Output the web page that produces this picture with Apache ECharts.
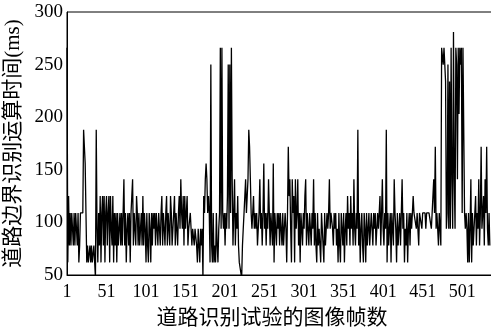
<!DOCTYPE html>
<html>
<head>
<meta charset="utf-8">
<script src="https://cdn.jsdelivr.net/npm/echarts@6/dist/echarts.min.js"></script>
<style>
  html, body { margin: 0; padding: 0; background: #fff; }
  #chart { width: 491px; height: 334px; }
</style>
</head>
<body>
<div id="chart"></div>
<script>
// processing time per frame (ms); timer steps of ~15.6 ms
const times = [
  266, 62, 125, 78, 109, 78, 109, 94, 78, 109,
  78, 109, 94, 78, 109, 62, 78, 109, 109, 109,
  109, 188, 172, 156, 109, 62, 78, 62, 62, 78,
  62, 78, 62, 62, 78, 62, 47, 188, 94, 62,
  109, 78, 125, 62, 109, 125, 78, 125, 62, 109,
  125, 78, 109, 125, 62, 125, 94, 78, 125, 62,
  109, 78, 109, 62, 109, 78, 94, 109, 78, 109,
  78, 109, 141, 78, 109, 62, 94, 109, 78, 109,
  62, 109, 125, 141, 78, 109, 94, 78, 125, 109,
  78, 109, 78, 94, 109, 78, 125, 78, 109, 94,
  62, 109, 78, 62, 109, 94, 62, 109, 78, 109,
  94, 109, 78, 109, 94, 78, 109, 94, 78, 109,
  125, 78, 109, 94, 78, 109, 125, 78, 109, 94,
  78, 125, 109, 78, 94, 109, 125, 78, 109, 94,
  78, 109, 125, 94, 141, 109, 94, 125, 78, 125,
  94, 109, 125, 78, 94, 94, 109, 94, 78, 94,
  94, 78, 94, 94, 78, 62, 94, 78, 62, 94,
  78, 94, 47, 125, 109, 141, 156, 141, 109, 125,
  109, 62, 250, 78, 62, 109, 62, 78, 62, 109,
  78, 62, 94, 109, 266, 94, 266, 109, 94, 109,
  78, 109, 94, 125, 250, 94, 250, 109, 266, 141,
  78, 109, 141, 78, 109, 94, 125, 78, 62, 62,
  62, 47, 78, 94, 109, 125, 141, 109, 125, 141,
  188, 172, 141, 109, 94, 109, 125, 94, 109, 94,
  109, 78, 94, 109, 141, 94, 109, 78, 109, 156,
  94, 109, 78, 109, 94, 141, 109, 78, 109, 94,
  78, 156, 62, 109, 94, 78, 109, 94, 109, 78,
  109, 94, 78, 109, 78, 94, 109, 94, 62, 109,
  172, 125, 141, 94, 62, 141, 109, 125, 62, 141,
  94, 109, 141, 78, 109, 62, 109, 94, 78, 109,
  94, 125, 141, 78, 109, 94, 78, 109, 94, 78,
  109, 94, 141, 78, 109, 78, 62, 109, 78, 94,
  78, 62, 109, 94, 78, 62, 109, 78, 94, 109,
  94, 109, 141, 94, 109, 109, 94, 78, 109, 94,
  109, 78, 94, 62, 109, 78, 62, 109, 94, 78,
  109, 62, 94, 109, 78, 125, 94, 109, 78, 125,
  94, 109, 78, 141, 94, 78, 109, 94, 188, 78,
  109, 62, 94, 109, 78, 62, 109, 94, 62, 109,
  78, 94, 109, 78, 94, 109, 94, 78, 109, 94,
  109, 78, 94, 109, 94, 109, 125, 78, 109, 141,
  94, 78, 109, 94, 188, 62, 109, 78, 94, 109,
  62, 109, 94, 78, 141, 109, 94, 62, 109, 78,
  94, 109, 78, 109, 141, 94, 109, 62, 94, 78,
  109, 62, 94, 109, 78, 109, 94, 109, 125, 109,
  109, 109, 94, 109, 109, 78, 109, 109, 109, 94,
  109, 109, 109, 109, 94, 109, 109, 109, 109, 109,
  109, 94, 109, 125, 141, 109, 172, 94, 109, 94,
  78, 109, 94, 78, 266, 266, 250, 266, 250, 234,
  94, 109, 250, 94, 234, 94, 266, 141, 94, 281,
  141, 94, 266, 250, 141, 266, 203, 266, 250, 266,
  109, 266, 266, 109, 94, 109, 94, 62, 109, 62,
  94, 141, 62, 109, 78, 94, 109, 125, 78, 109,
  94, 141, 78, 109, 172, 94, 109, 125, 78, 141,
  109, 172, 94, 78, 109, 78
];
const xTicks = [1, 51, 101, 151, 201, 251, 301, 351, 401, 451, 501];
const yTicks = [50, 100, 150, 200, 250, 300];

const points = times.map((v, i) => [i + 1, v]);
const serif = "Liberation Serif, DejaVu Serif, Noto Sans CJK SC, serif";

const chart = echarts.init(document.getElementById("chart"), null, { renderer: "canvas" });
chart.setOption({
  animation: false,
  backgroundColor: "#fff",
  textStyle: { fontFamily: serif },
  grid: {
    left: 67,
    right: -2,
    top: 12,
    bottom: 59,
    show: true,
    borderColor: "#000",
    borderWidth: 1,
    backgroundColor: "transparent",
    outerBoundsMode: "none",
  },
  xAxis: {
    type: "value",
    min: xTicks[0],
    max: 540,
    interval: 50,
    name: "道路识别试验的图像帧数",
    nameLocation: "middle",
    nameGap: 33,
    nameTextStyle: { color: "#000", fontSize: 21, fontFamily: serif, padding: [0, 16, 0, 0] },
    axisLine: { lineStyle: { color: "#000", width: 1 } },
    axisTick: { show: false },
    splitLine: { show: false },
    axisLabel: {
      color: "#000",
      fontSize: 18,
      fontFamily: serif,
      margin: 8,
      showMaxLabel: false,
      formatter: (v) => (xTicks.includes(v) ? String(v) : ""),
    },
  },
  yAxis: {
    type: "value",
    min: yTicks[0],
    max: yTicks[yTicks.length - 1],
    interval: 50,
    name: "道路边界识别运算时间(ms)",
    nameLocation: "middle",
    nameRotate: 90,
    nameGap: 37,
    nameTextStyle: { color: "#000", fontSize: 21, fontFamily: serif },
    axisLine: { show: true, lineStyle: { color: "#000", width: 1 } },
    axisTick: { show: false },
    splitLine: { show: false },
    axisLabel: { color: "#000", fontSize: 19, fontFamily: serif, margin: 4 },
  },
  series: [
    {
      type: "line",
      data: points,
      showSymbol: false,
      clip: true,
      lineStyle: { color: "#000", width: 1.3 },
    },
  ],
});
</script>
</body>
</html>
